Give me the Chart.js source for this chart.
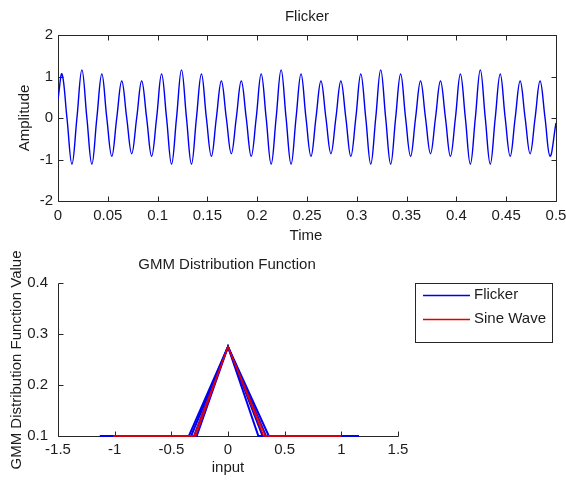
<!DOCTYPE html>
<html><head><meta charset="utf-8">
<script src="https://cdn.jsdelivr.net/npm/chart.js@4.4.0/dist/chart.umd.min.js"></script>
<style>
html,body{margin:0;padding:0;background:#fff;}
#wrap{position:relative;width:566px;height:481px;overflow:hidden;}
canvas{position:absolute;left:0;}
</style></head><body>
<div id="wrap">
<canvas id="c1" width="566" height="250" style="top:0"></canvas>
<canvas id="c2" width="566" height="231" style="top:250px"></canvas>
</div>
<script>
// ---------- Top chart data: Flicker signal ----------
const flickerTime = [0,
0.004,0.009,0.014,0.019, 0.024,0.029,0.034,0.039, 0.044,0.049,0.054,0.059, 0.064,0.069,0.074,0.079,
0.084,0.089,0.094,0.099, 0.104,0.109,0.114,0.119, 0.124,0.129,0.134,0.139, 0.144,0.149,0.154,0.159,
0.164,0.169,0.174,0.179, 0.184,0.189,0.194,0.199, 0.204,0.209,0.214,0.219, 0.224,0.229,0.234,0.239,
0.244,0.249,0.254,0.259, 0.264,0.269,0.274,0.279, 0.284,0.289,0.294,0.299, 0.304,0.309,0.314,0.319,
0.324,0.329,0.334,0.339, 0.344,0.349,0.354,0.359, 0.364,0.369,0.374,0.379, 0.384,0.389,0.394,0.399,
0.404,0.409,0.414,0.419, 0.424,0.429,0.434,0.439, 0.444,0.449,0.454,0.459, 0.464,0.469,0.474,0.479,
0.484,0.489,0.494,0.5];
const flickerAmp = [0.45,
1.06,0,-1.11,0, 1.16,0,-1.11,0, 1.06,0,-0.92,0, 0.89,0,-0.86,0,
0.89,0,-0.92,0, 1.06,0,-1.11,0, 1.16,0,-1.11,0, 1.06,0,-0.92,0,
0.89,0,-0.86,0, 0.89,0,-0.92,0, 1.06,0,-1.11,0, 1.16,0,-1.11,0,
1.06,0,-0.92,0, 0.89,0,-0.86,0, 0.89,0,-0.92,0, 1.06,0,-1.11,0,
1.16,0,-1.11,0, 1.06,0,-0.92,0, 0.89,0,-0.86,0, 0.89,0,-0.92,0,
1.06,0,-1.11,0, 1.16,0,-1.11,0, 1.06,0,-0.92,0, 0.89,0,-0.86,0,
0.89,0,-0.92,-0.12];
const topXTicks = [0,0.05,0.1,0.15,0.2,0.25,0.3,0.35,0.4,0.45,0.5];
const topYTicks = [-2,-1,0,1,2];

// ---------- Bottom chart data: GMM distribution function ----------
const gmmY = [0.1, 0.1, 0.275, 0.1, 0.1];
const flickerGmmX1 = [-1.13, -0.345, 0, 0.36, 1.156];
const flickerGmmX2 = [-1.13, -0.325, 0, 0.335, 1.156];
const flickerGmmX3 = [-1.13, -0.30, 0, 0.305, 1.156];
const flickerGmmX4 = [-1.13, -0.276, 0, 0.268, 1.156];
const sineGmmX1 = [-1.01, -0.30, 0, 0.33, 1.0];
const sineGmmX2 = [-1.01, -0.285, 0, 0.315, 1.0];
const bottomXTicks = [-1.5,-1,-0.5,0,0.5,1,1.5];
const bottomYTicks = [0.1,0.2,0.3,0.4];

const FONT = '"Liberation Sans", Arial, Helvetica, sans-serif';
const TXT = '#1c1c1c';
const AX = '#262626';
const BLUE = '#0000f0';
const RED = '#e00000';

function fmt(v){ return String(+(+v).toFixed(3)); }
function pts(xs, ys){ return xs.map((x,i)=>({x:x, y:ys[i]})); }

const decoPlugin = {
  id: 'deco',
  beforeDatasetsDraw(chart, args, opts) {
    const ctx = chart.ctx, a = chart.chartArea;
    const L = Math.round(a.left)+0.5, R = Math.round(a.right)+0.5;
    const T = Math.round(a.top)+0.5, B = Math.round(a.bottom)+0.5;
    ctx.save();
    ctx.strokeStyle = AX; ctx.lineWidth = 1;
    ctx.beginPath();
    ctx.moveTo(L, T); ctx.lineTo(L, B); ctx.lineTo(R, B);
    if (opts.box) { ctx.lineTo(R, T); ctx.lineTo(L, T); }
    const tl = 5;
    const xs = chart.scales.x, ys = chart.scales.y;
    xs.ticks.forEach(t => {
      const p = Math.round(xs.getPixelForValue(t.value))+0.5;
      ctx.moveTo(p, B); ctx.lineTo(p, B - tl);
      if (opts.box) { ctx.moveTo(p, T); ctx.lineTo(p, T + tl); }
    });
    ys.ticks.forEach(t => {
      const p = Math.round(ys.getPixelForValue(t.value))+0.5;
      ctx.moveTo(L, p); ctx.lineTo(L + tl, p);
      if (opts.box) { ctx.moveTo(R, p); ctx.lineTo(R - tl, p); }
    });
    ctx.stroke();
    ctx.restore();
  },
  afterDraw(chart, args, opts) {
    const ctx = chart.ctx;
    ctx.save();
    ctx.fillStyle = TXT;
    ctx.font = '15px ' + FONT;
    ctx.textAlign = 'center';
    ctx.textBaseline = 'middle';
    (opts.texts || []).forEach(t => {
      ctx.save();
      ctx.translate(t.x, t.y);
      if (t.rot) ctx.rotate(t.rot);
      ctx.fillText(t.text, 0, 0);
      ctx.restore();
    });
    if (opts.legend) {
      const lg = opts.legend;
      ctx.fillStyle = '#fff';
      ctx.fillRect(lg.x, lg.y, lg.w, lg.h);
      ctx.strokeStyle = AX; ctx.lineWidth = 1;
      ctx.strokeRect(lg.x + 0.5, lg.y + 0.5, lg.w, lg.h);
      const items = chart.data.datasets.filter(d => d.inLegend);
      items.forEach((d, i) => {
        const y = lg.y + lg.first + i * lg.step;
        ctx.strokeStyle = d.swatch; ctx.lineWidth = 1.3;
        ctx.beginPath(); ctx.moveTo(lg.x + 8, y + 0.5); ctx.lineTo(lg.x + 55, y + 0.5); ctx.stroke();
        ctx.fillStyle = TXT; ctx.textAlign = 'left';
        ctx.fillText(d.label, lg.x + 59, y);
      });
    }
    ctx.restore();
  }
};

function tickOpts(pad){
  return { padding: pad, color: TXT, font: {family: FONT, size: 15}, maxRotation: 0, autoSkip: false, callback: v => fmt(v) };
}

// ---------- Top chart ----------
new Chart(document.getElementById('c1'), {
  type: 'line',
  data: { datasets: [{
    label: 'Flicker', data: pts(flickerTime, flickerAmp),
    borderColor: BLUE, borderWidth: 1.4, pointRadius: 0, tension: 0.4, fill: false
  }]},
  options: {
    responsive: false, animation: false, devicePixelRatio: 1,
    layout: { padding: { left: 0, top: 35, right: 10, bottom: 0 } },
    plugins: {
      legend: { display: false }, tooltip: { enabled: false },
      deco: { box: true, texts: [
        { text: 'Flicker', x: 307, y: 17 },
        { text: 'Time', x: 306, y: 236 },
        { text: 'Amplitude', x: 25, y: 118, rot: -Math.PI/2 }
      ]}
    },
    scales: {
      x: { type: 'linear', min: 0, max: 0.5,
        grid: { display: false, drawTicks: false }, border: { display: false },
        ticks: tickOpts(6),
        afterBuildTicks(s){ s.ticks = topXTicks.map(v=>({value:v})); },
        afterFit(s){ s.height = 49; s.paddingLeft = 0; s.paddingRight = 0; } },
      y: { type: 'linear', min: -2, max: 2,
        grid: { display: false, drawTicks: false }, border: { display: false },
        ticks: tickOpts(5),
        afterBuildTicks(s){ s.ticks = topYTicks.map(v=>({value:v})); },
        afterFit(s){ s.width = 58; s.paddingTop = 0; s.paddingBottom = 0; } }
    }
  },
  plugins: [decoPlugin]
});

// ---------- Bottom chart ----------
function gmmSet(label, xs, color, w, order, inLegend){
  return { label: label, data: pts(xs, gmmY), borderColor: color, swatch: color, borderWidth: w,
    pointRadius: 0, tension: 0, fill: false, clip: false, order: order, inLegend: inLegend };
}
new Chart(document.getElementById('c2'), {
  type: 'line',
  data: { datasets: [
    gmmSet('Flicker', flickerGmmX1, BLUE, 2, 2, true),
    gmmSet('Flicker', flickerGmmX2, BLUE, 2, 2, false),
    gmmSet('Flicker', flickerGmmX3, BLUE, 2, 2, false),
    gmmSet('Flicker', flickerGmmX4, BLUE, 2, 2, false),
    gmmSet('Sine Wave', sineGmmX1, RED, 1.3, 1, true),
    gmmSet('Sine Wave', sineGmmX2, RED, 1.3, 1, false)
  ]},
  options: {
    responsive: false, animation: false, devicePixelRatio: 1,
    layout: { padding: { left: 0, top: 33, right: 168, bottom: 0 } },
    plugins: {
      legend: { display: false }, tooltip: { enabled: false },
      deco: { box: false, texts: [
        { text: 'GMM Distribution Function', x: 227, y: 15 },
        { text: 'input', x: 228, y: 218 },
        { text: 'GMM Distribution Function Value', x: 17, y: 110, rot: -Math.PI/2 }
      ], legend: { x: 415, y: 33, w: 137, h: 59, first: 12, step: 24 } }
    },
    scales: {
      x: { type: 'linear', min: -1.5, max: 1.5,
        grid: { display: false, drawTicks: false }, border: { display: false },
        ticks: tickOpts(5),
        afterBuildTicks(s){ s.ticks = bottomXTicks.map(v=>({value:v})); },
        afterFit(s){ s.height = 45; s.paddingLeft = 0; s.paddingRight = 0; } },
      y: { type: 'linear', min: 0.1, max: 0.4,
        grid: { display: false, drawTicks: false }, border: { display: false },
        ticks: tickOpts(10),
        afterBuildTicks(s){ s.ticks = bottomYTicks.map(v=>({value:v})); },
        afterFit(s){ s.width = 58; s.paddingTop = 0; s.paddingBottom = 0; } }
    }
  },
  plugins: [decoPlugin]
});
</script>
</body></html>
